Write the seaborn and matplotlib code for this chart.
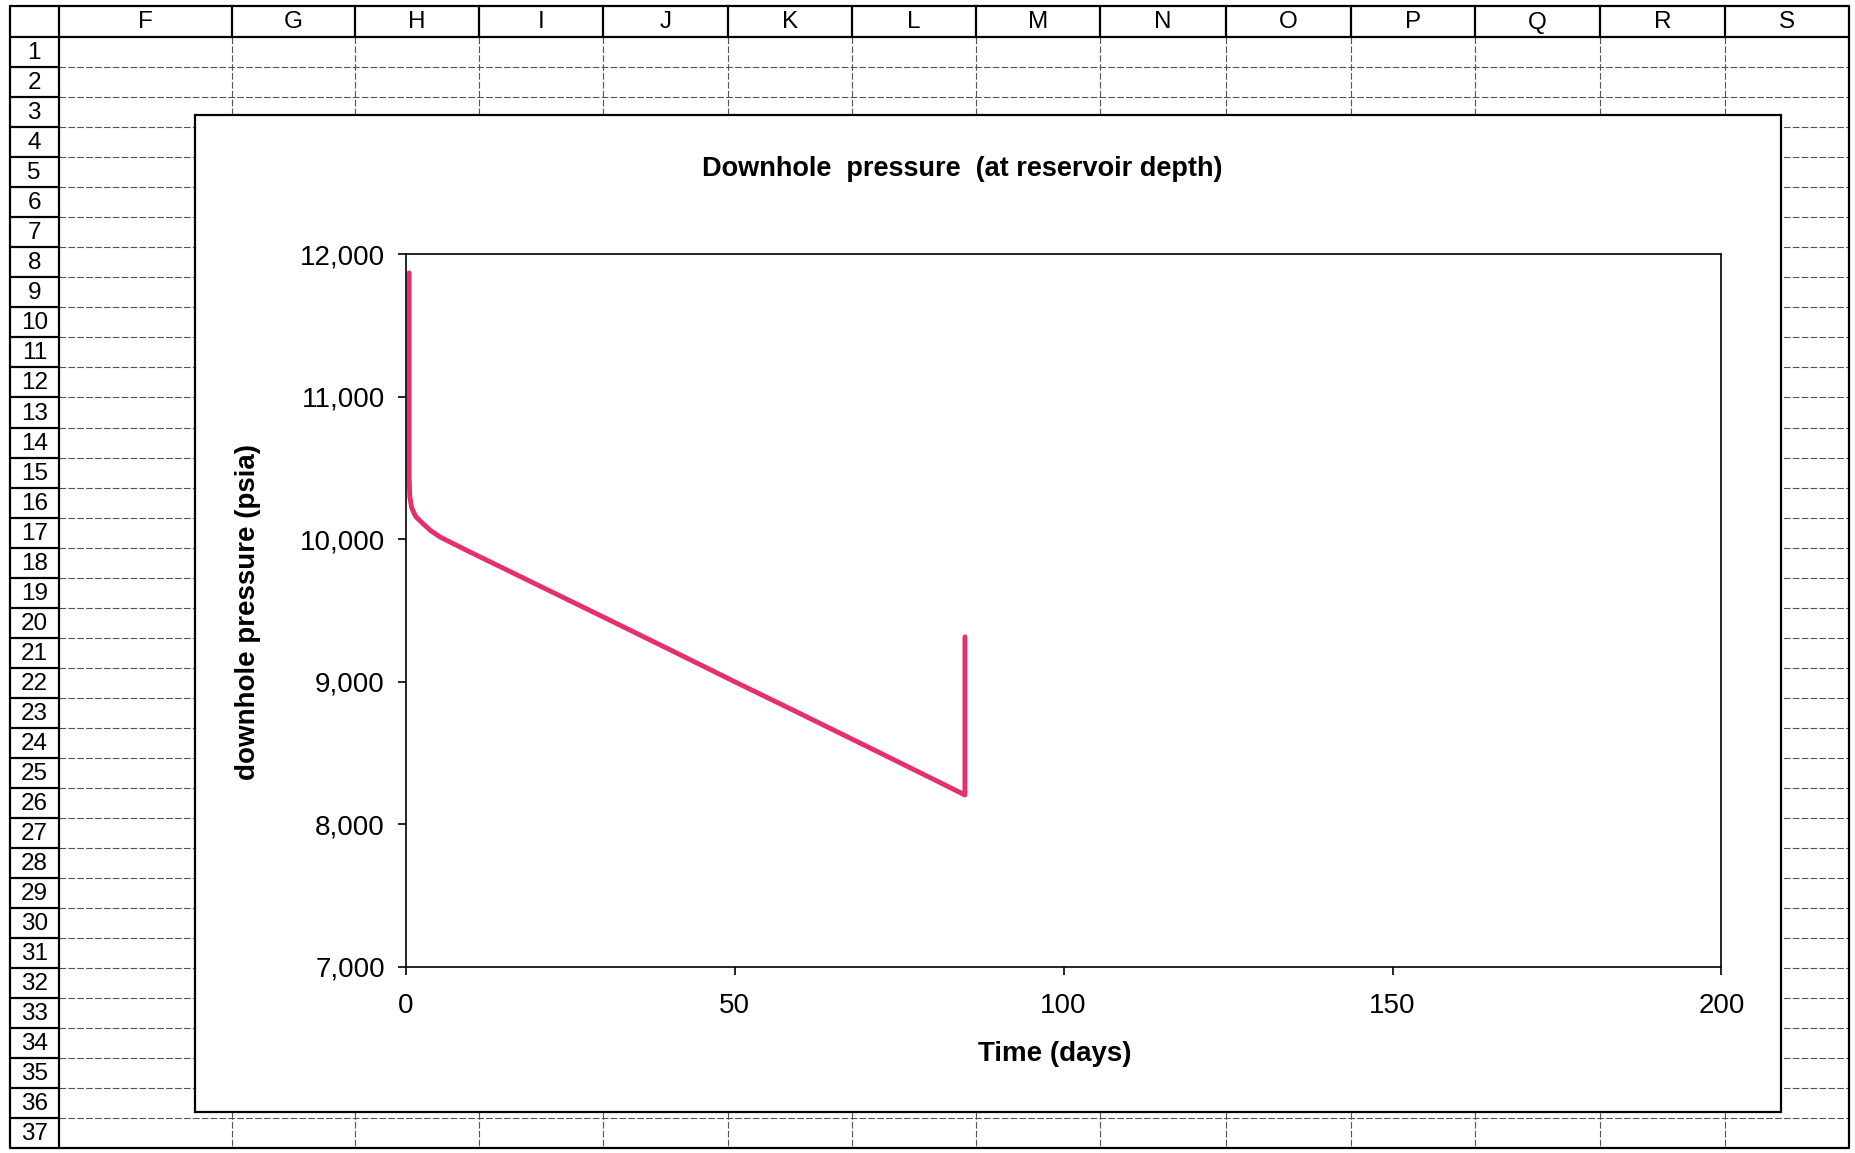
import numpy as np
import pandas as pd
import seaborn as sns
import matplotlib.pyplot as plt
from matplotlib.patches import Rectangle
from matplotlib.ticker import FuncFormatter

# values
days = [0.5, 0.5, 0.6, 0.9, 1.5, 2.6, 3.8, 5.2, 10, 15.4, 20, 30, 40, 50, 60, 70, 80, 85, 85]
psia = [11870, 10450, 10300, 10220, 10160, 10110, 10060, 10016, 9905, 9784, 9680,
        9455, 9228, 9000, 8775, 8548, 8320, 8205, 9315]

x_ticks = [0, 50, 100, 150, 200]
y_ticks = [7000, 8000, 9000, 10000, 11000, 12000]

col_letters = ['F', 'G', 'H', 'I', 'J', 'K', 'L', 'M', 'N', 'O', 'P', 'Q', 'R', 'S']
row_numbers = list(range(1, 38))

data = pd.DataFrame({'Time (days)': days, 'pressure': psia})

sns.set_style('ticks')
plt.rcParams['font.family'] = ['Liberation Sans', 'DejaVu Sans']
plt.rcParams['text.color'] = 'black'
plt.rcParams['xtick.color'] = 'black'
plt.rcParams['ytick.color'] = 'black'

W, H = 1855, 1153
fig = plt.figure(figsize=(W / 100, H / 100), dpi=100)
fig.patch.set_facecolor('white')

# spreadsheet background, drawn in pixel coordinates
bg = fig.add_axes([0, 0, 1, 1])
bg.set_xlim(0, W)
bg.set_ylim(H, 0)
bg.axis('off')

col_edges = [59, 232, 355, 479, 603, 728, 852, 976, 1100, 1226, 1351, 1475, 1600, 1725, 1849]
sheet_left, head_top, head_bot = 9.5, 6, 37
row_h = 30.04
row_edges = [head_bot + i * row_h for i in range(len(row_numbers) + 1)]
sheet_bot = row_edges[-1]

grid = dict(color='#555555', lw=0.8, ls=(0, (6, 2)), zorder=1)
for y in row_edges[1:-1]:
    bg.plot([col_edges[0], col_edges[-1]], [y, y], **grid)
for x in col_edges[1:-1]:
    bg.plot([x, x], [head_bot, sheet_bot], **grid)

solid = dict(color='black', lw=1.6, zorder=2)
bg.plot([sheet_left, col_edges[-1], col_edges[-1], sheet_left, sheet_left],
        [head_top, head_top, sheet_bot, sheet_bot, head_top], **solid)
bg.plot([sheet_left, col_edges[-1]], [head_bot, head_bot], **solid)
bg.plot([col_edges[0], col_edges[0]], [head_top, sheet_bot], **solid)
for x in col_edges[1:-1]:
    bg.plot([x, x], [head_top, head_bot], **solid)
for y in row_edges[1:-1]:
    bg.plot([sheet_left, col_edges[0]], [y, y], **solid)

for i, letter in enumerate(col_letters):
    bg.text((col_edges[i] + col_edges[i + 1]) / 2, (head_top + head_bot) / 2 + 1, letter,
            ha='center', va='center', fontsize=17.5, zorder=3)
for i, n in enumerate(row_numbers):
    bg.text((sheet_left + col_edges[0]) / 2, (row_edges[i] + row_edges[i + 1]) / 2 + 1, str(n),
            ha='center', va='center', fontsize=17.5, zorder=3)

# chart object
bg.add_patch(Rectangle((195, 115), 1781 - 195, 1112 - 115, facecolor='white',
                       edgecolor='black', lw=1.6, zorder=4))
bg.text(962, 169, 'Downhole  pressure  (at reservoir depth)', ha='center', va='center',
        fontsize=19.5, fontweight='bold', zorder=5)
bg.text(1055, 1054, 'Time (days)', ha='center', va='center',
        fontsize=20, fontweight='bold', zorder=5)
bg.text(248, 612, 'downhole pressure (psia)', ha='center', va='center', rotation=90,
        fontsize=20, fontweight='bold', zorder=5)

# plot area
left, right, top, bottom = 405.8, 1721.4, 254.4, 966.6
ax = fig.add_axes([left / W, 1 - bottom / H, (right - left) / W, (bottom - top) / H], zorder=6)
ax.patch.set_alpha(0)
sns.lineplot(data=data, x='Time (days)', y='pressure', sort=False, estimator=None,
             color='#E6306E', linewidth=3.5, ax=ax)
ax.set_xlim(0, 200)
ax.set_ylim(7000, 12000)
ax.set_xticks(x_ticks)
ax.set_yticks(y_ticks)
ax.yaxis.set_major_formatter(FuncFormatter(lambda v, p: f'{v:,.0f}'))
ax.set_xlabel('')
ax.set_ylabel('')
for s in ax.spines.values():
    s.set_visible(True)
    s.set_color('black')
    s.set_linewidth(1.2)
ax.tick_params(axis='both', labelsize=20, length=6, width=1.2, color='black', direction='out')
ax.tick_params(axis='x', pad=13)
ax.tick_params(axis='y', pad=9)

fig.savefig('out.png', dpi=100, facecolor='white')
